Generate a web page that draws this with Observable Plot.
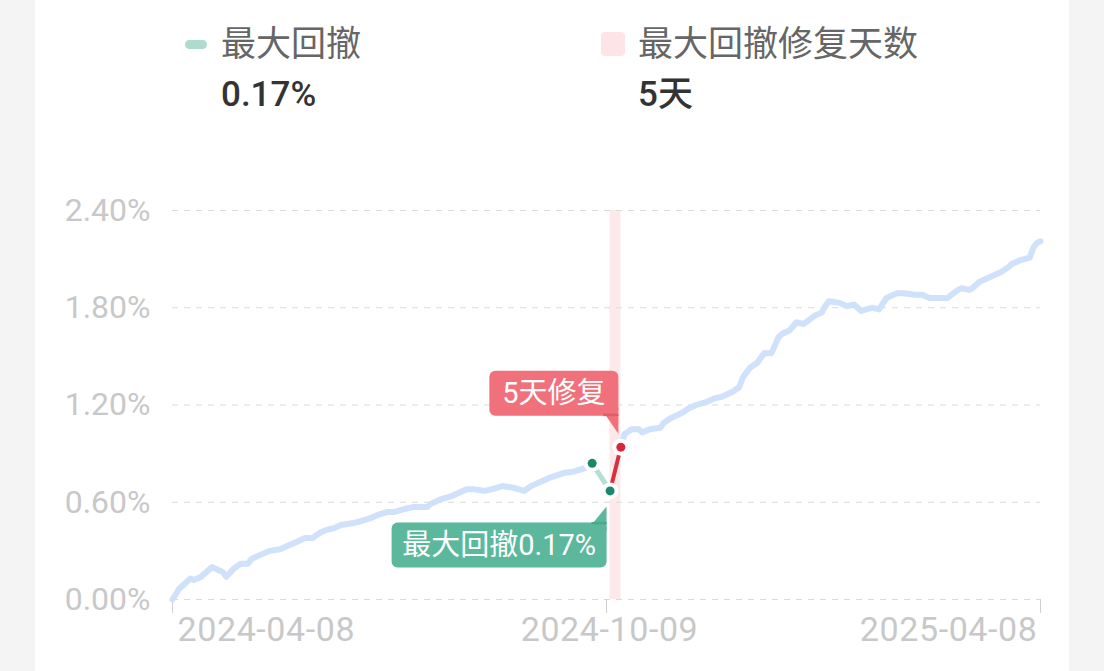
<!DOCTYPE html>
<html>
<head>
<meta charset="utf-8">
<script src="https://cdn.jsdelivr.net/npm/d3@7"></script>
<script src="https://cdn.jsdelivr.net/npm/@observablehq/plot@0.6"></script>
<style>
  html, body { margin: 0; padding: 0; background: #f4f4f4; }
  body { width: 1104px; height: 671px; overflow: hidden; position: relative;
         font-family: Roboto, "Noto Sans CJK SC", sans-serif; }
  #card { position: absolute; left: 35px; top: 0; width: 1034px; height: 671px; background: #fff; }
  #legend { position: absolute; left: 0; top: 0; width: 1104px; height: 180px; }
  #chart { position: absolute; left: 0; top: 180px; }
  .lg-icon { position: absolute; }
  .lg-title { position: absolute; font-size: 35px; color: #666; white-space: nowrap; line-height: 50px; }
  .lg-value { position: absolute; font-size: 35px; color: #333; font-weight: 500; white-space: nowrap; line-height: 50px; }
  .x-date { letter-spacing: 0.6px; }
</style>
</head>
<body>
<div id="card"></div>
<div id="legend"></div>
<div id="chart"></div>
<script>
// Cumulative return (%) by trading-day index, 2024-04-08 … 2025-04-08
const tradingDay = [
  0, 2, 5, 6, 8, 11, 12, 14, 15, 17,
  19, 21, 22, 25, 27, 30, 32, 35, 37, 39,
  41, 43, 45, 47, 50, 52, 55, 57, 60, 62,
  65, 67, 71, 72, 75, 78, 80, 82, 84, 87,
  89, 92, 95, 98, 100, 103, 105, 109, 112, 115,
  117, 122, 125, 126, 128, 130, 131, 133, 136, 137,
  139, 142, 144, 146, 149, 151, 153, 156, 158, 159,
  161, 163, 165, 167, 169, 170, 172, 174, 176, 179,
  181, 182, 183, 186, 188, 190, 192, 195, 197, 199,
  202, 204, 207, 209, 211, 216, 219, 220, 222, 223,
  225, 228, 231, 233, 234, 236, 239, 240, 241, 242
];
const returnPct = [
  0.00, 0.07, 0.13, 0.12, 0.14, 0.20, 0.19, 0.17, 0.14, 0.19,
  0.22, 0.22, 0.25, 0.28, 0.30, 0.31, 0.33, 0.36, 0.38, 0.38,
  0.41, 0.43, 0.44, 0.46, 0.47, 0.48, 0.50, 0.52, 0.54, 0.54,
  0.56, 0.57, 0.57, 0.59, 0.62, 0.64, 0.66, 0.68, 0.68, 0.67,
  0.68, 0.70, 0.69, 0.67, 0.70, 0.73, 0.75, 0.78, 0.79, 0.81,
  0.84, 0.67, 0.94, 1.02, 1.05, 1.05, 1.03, 1.05, 1.06, 1.09,
  1.12, 1.15, 1.18, 1.20, 1.22, 1.24, 1.25, 1.28, 1.31, 1.37,
  1.43, 1.46, 1.52, 1.52, 1.62, 1.64, 1.66, 1.71, 1.70, 1.75,
  1.77, 1.81, 1.84, 1.83, 1.81, 1.82, 1.78, 1.80, 1.79, 1.86,
  1.89, 1.89, 1.88, 1.88, 1.86, 1.86, 1.91, 1.92, 1.91, 1.92,
  1.96, 1.99, 2.02, 2.05, 2.07, 2.09, 2.11, 2.17, 2.20, 2.21
];

// Max drawdown episode: peak → trough → recovery
const peakDay = 117, troughDay = 122, recoveryDay = 125;
const recoveryDays = 5;

// Axis ticks
const yTicks = [0, 0.6, 1.2, 1.8, 2.4];
const xTickDays = [0, 121, 242];
const xTickLabels = ["2024-04-08", "2024-10-09", "2025-04-08"];

// Colours
const C = {
  line: "#cfe1fb",
  band: "#fde8ea",
  grid: "#dadada",
  axisText: "#c8c8c8",
  ddSeg: "#b3e0d3",
  ddDot: "#18896a",
  ddBox: "#5bb89d",
  ddBoxDark: "#4aa88b",
  recSeg: "#d8303f",
  recDot: "#d62839",
  recBox: "#f0707c",
  recBoxDark: "#e05d6a",
  legendDash: "#addccf",
  legendSquare: "#fde4e6"
};

const rows = tradingDay.map((day, i) => ({day, value: returnPct[i]}));
const valueAt = (day) => rows.find(r => r.day === day).value;
const peakVal = valueAt(peakDay), troughVal = valueAt(troughDay), recVal = valueAt(recoveryDay);
const drawdown = peakVal - troughVal;
const ddText = drawdown.toFixed(2) + "%";

// Legend
const legend = document.getElementById("legend");
legend.innerHTML = `
  <div class="lg-icon" style="left:185px;top:40px;width:22px;height:9px;border-radius:5px;background:${C.legendDash}"></div>
  <div class="lg-title" style="left:221px;top:20px">最大回撤</div>
  <div class="lg-value" style="left:221px;top:70px">${ddText}</div>
  <div class="lg-icon" style="left:601px;top:32px;width:24px;height:24px;border-radius:4px;background:${C.legendSquare}"></div>
  <div class="lg-title" style="left:638px;top:20px">最大回撤修复天数</div>
  <div class="lg-value" style="left:638px;top:70px">${recoveryDays}天</div>
`;

const fontFamily = 'Roboto, "Noto Sans CJK SC", sans-serif';

// Callout boxes anchored to the trough and recovery points
function callouts(index, scales) {
  const g = d3.create("svg:g").attr("font-family", fontFamily);

  // recovery callout (above-left of the recovery point)
  {
    const px = scales.x(recoveryDay), py = scales.y(recVal);
    const right = px - 2, bottom = py - 31, top = py - 76, left = px - 131;
    g.append("rect").attr("x", left).attr("y", top).attr("width", right - left).attr("height", bottom - top)
      .attr("rx", 6).attr("fill", C.recBox);
    g.append("rect").attr("x", right - 8).attr("y", bottom - 8).attr("width", 8).attr("height", 8).attr("fill", C.recBox);
    g.append("path").attr("d", `M${right - 13},${bottom - 1}L${right},${bottom - 1}L${right},${py - 13}Z`).attr("fill", C.recBox);
    g.append("rect").attr("x", right - 15).attr("y", bottom - 2).attr("width", 15).attr("height", 2.5).attr("fill", C.recBoxDark);
    g.append("text").attr("x", (left + right) / 2).attr("y", (top + bottom) / 2).attr("dy", "0.35em")
      .attr("text-anchor", "middle").attr("font-size", 29).attr("fill", "#fff").text(`${recoveryDays}天修复`);
  }

  // drawdown callout (below-left of the trough point)
  {
    const px = scales.x(troughDay), py = scales.y(troughVal);
    const right = px - 3, top = py + 32, bottom = py + 77, left = px - 218;
    g.append("rect").attr("x", left).attr("y", top).attr("width", right - left).attr("height", bottom - top)
      .attr("rx", 6).attr("fill", C.ddBox);
    g.append("rect").attr("x", right - 8).attr("y", top).attr("width", 8).attr("height", 8).attr("fill", C.ddBox);
    g.append("path").attr("d", `M${right - 14},${top + 1}L${right},${top + 1}L${right},${py + 16}Z`).attr("fill", C.ddBox);
    g.append("rect").attr("x", right - 15).attr("y", top - 0.5).attr("width", 15).attr("height", 2.5).attr("fill", C.ddBoxDark);
    g.append("text").attr("x", (left + right) / 2).attr("y", (top + bottom) / 2).attr("dy", "0.35em")
      .attr("text-anchor", "middle").attr("font-size", 29).attr("fill", "#fff").text(`最大回撤${ddText}`);
  }
  return g.node();
}

const lineStyle = {x: "day", y: "value", strokeLinejoin: "round", strokeLinecap: "round"};
const xLabelAnchors = ["start", "middle", "end"];
const xLabelShift = [5, 3, -3];

const chart = Plot.plot({
  width: 1104,
  height: 491,
  marginLeft: 172,
  marginRight: 64,
  marginTop: 30,
  marginBottom: 72,
  style: {background: "transparent", fontFamily},
  x: {domain: [0, 242], axis: null},
  y: {domain: [0, 2.4], axis: null},
  marks: [
    Plot.rect([{from: troughDay, to: recoveryDay}], {x1: "from", x2: "to", y1: 0, y2: 2.4, fill: C.band}),
    Plot.gridY(yTicks, {stroke: C.grid, strokeOpacity: 1, strokeWidth: 1.2, strokeDasharray: "6,6"}),
    Plot.axisY(yTicks, {
      tickSize: 0, tickPadding: 22, label: null, fontSize: 32, color: C.axisText,
      tickFormat: d => d.toFixed(2) + "%"
    }),
    Plot.axisX(xTickDays, {tickSize: 14, tickFormat: () => "", label: null, color: "#cfcfcf"}),
    ...xTickDays.map((d, i) => Plot.text([xTickLabels[i]], {
      x: () => d, text: t => t, frameAnchor: "bottom", dy: 41, dx: xLabelShift[i],
      textAnchor: xLabelAnchors[i], fontSize: 34, fill: C.axisText, className: "x-date"
    })),
    Plot.line(rows.filter(r => r.day <= peakDay), {...lineStyle, stroke: C.line, strokeWidth: 6}),
    Plot.line(rows.filter(r => r.day >= recoveryDay), {...lineStyle, stroke: C.line, strokeWidth: 6}),
    Plot.line(rows.filter(r => r.day >= peakDay && r.day <= troughDay), {...lineStyle, stroke: C.ddSeg, strokeWidth: 5}),
    Plot.line(rows.filter(r => r.day >= troughDay && r.day <= recoveryDay), {...lineStyle, stroke: C.recSeg, strokeWidth: 4}),
    Plot.dot([peakDay, troughDay, recoveryDay].map(d => rows.find(r => r.day === d)),
      {x: "day", y: "value", r: 8.5, fill: "#fff"}),
    Plot.dot([peakDay, troughDay].map(d => rows.find(r => r.day === d)),
      {x: "day", y: "value", r: 4.5, fill: C.ddDot}),
    Plot.dot([recoveryDay].map(d => rows.find(r => r.day === d)),
      {x: "day", y: "value", r: 4.5, fill: C.recDot}),
    callouts
  ]
});
document.getElementById("chart").appendChild(chart);
</script>
</body>
</html>
